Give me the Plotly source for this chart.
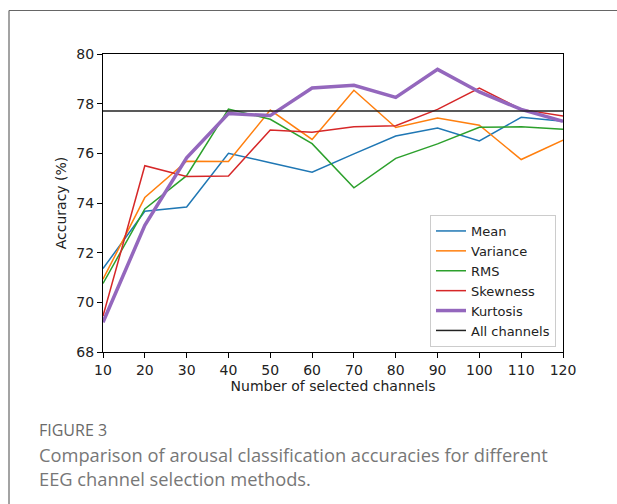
import plotly.graph_objects as go

channels = [10, 20, 30, 40, 50, 60, 70, 80, 90, 100, 110, 120]
mean_acc = [71.36, 73.67, 73.84, 76.0, 75.62, 75.24, 75.98, 76.7, 77.02, 76.5, 77.45, 77.29]
variance_acc = [70.93, 74.22, 75.68, 75.67, 77.74, 76.56, 78.54, 77.04, 77.42, 77.13, 75.75, 76.53]
rms_acc = [70.76, 73.76, 75.1, 77.78, 77.37, 76.39, 74.61, 75.8, 76.38, 77.05, 77.07, 76.97]
skewness_acc = [69.45, 75.5, 75.07, 75.09, 76.94, 76.85, 77.07, 77.11, 77.77, 78.63, 77.77, 77.5]
kurtosis_acc = [69.2, 73.1, 75.82, 77.6, 77.52, 78.63, 78.74, 78.25, 79.38, 78.47, 77.77, 77.29]
all_channels_acc = 77.7

x_ticks = [10, 20, 30, 40, 50, 60, 70, 80, 90, 100, 110, 120]
y_ticks = [68, 70, 72, 74, 76, 78, 80]

series = [
    ("Mean", mean_acc, "#1f77b4", 1.5),
    ("Variance", variance_acc, "#ff7f0e", 1.5),
    ("RMS", rms_acc, "#2ca02c", 1.5),
    ("Skewness", skewness_acc, "#d62728", 1.5),
    ("Kurtosis", kurtosis_acc, "#9467bd", 3.5),
]

fig = go.Figure()
for name, vals, color, w in series:
    fig.add_trace(go.Scatter(x=channels, y=vals, mode="lines", name=name,
                             line=dict(color=color, width=w)))
fig.add_trace(go.Scatter(x=[channels[0], channels[-1]],
                         y=[all_channels_acc, all_channels_acc],
                         mode="lines", name="All channels",
                         line=dict(color="#222222", width=1.5)))

# plot area in pixels: x 103..563, y 54..352
L, R, T, B = 103, 563, 54, 352
W, H = R - L, B - T


def px(xp):
    return (xp - L) / W


def py(yp):
    return (B - yp) / H


axis_common = dict(showline=True, linecolor="black", linewidth=1, mirror=True,
                   ticks="outside", ticklen=5, tickcolor="black", tickwidth=1,
                   showgrid=False, zeroline=False,
                   tickfont=dict(family="DejaVu Sans", size=14, color="#222"))

fig.update_xaxes(range=[10, 120], tickvals=x_ticks,
                 title=dict(text="Number of selected channels", standoff=2,
                            font=dict(family="DejaVu Sans", size=14, color="#222")),
                 **axis_common)
fig.update_yaxes(range=[68, 80], tickvals=y_ticks,
                 title=dict(text="Accuracy (%)", standoff=6,
                            font=dict(family="DejaVu Sans", size=14, color="#222")),
                 **axis_common)

fig.update_layout(
    width=617, height=504,
    margin=dict(l=L, r=617 - R, t=T, b=504 - B, autoexpand=False),
    paper_bgcolor="white", plot_bgcolor="white",
    legend=dict(x=px(556), y=py(347), xanchor="right", yanchor="bottom",
                bgcolor="rgba(255,255,255,0.9)", bordercolor="#cccccc", borderwidth=1,
                font=dict(family="DejaVu Sans", size=13, color="#222"),
                tracegroupgap=0, itemwidth=30),
    shapes=[
        dict(type="line", xref="paper", yref="paper", x0=px(9), x1=px(617),
             y0=py(10.5), y1=py(10.5), line=dict(color="#666", width=1.2)),
        dict(type="line", xref="paper", yref="paper", x0=px(9), x1=px(9),
             y0=py(10.5), y1=py(504), line=dict(color="#666", width=1.2)),
    ],
    annotations=[
        dict(text="FIGURE 3", xref="paper", yref="paper", x=px(37), y=py(430),
             xanchor="left", yanchor="middle", showarrow=False,
             font=dict(family="Open Sans", size=16, color="#6a6a6a")),
        dict(text="Comparison of arousal classification accuracies for different<br>EEG channel selection methods.",
             xref="paper", yref="paper", x=px(37), y=py(440), xanchor="left", yanchor="top",
             align="left", showarrow=False,
             font=dict(family="Open Sans", size=18.3, color="#777")),
    ],
)

fig.write_html("out.html", config={"displayModeBar": False},
               post_script="document.body.style.margin='0';")
